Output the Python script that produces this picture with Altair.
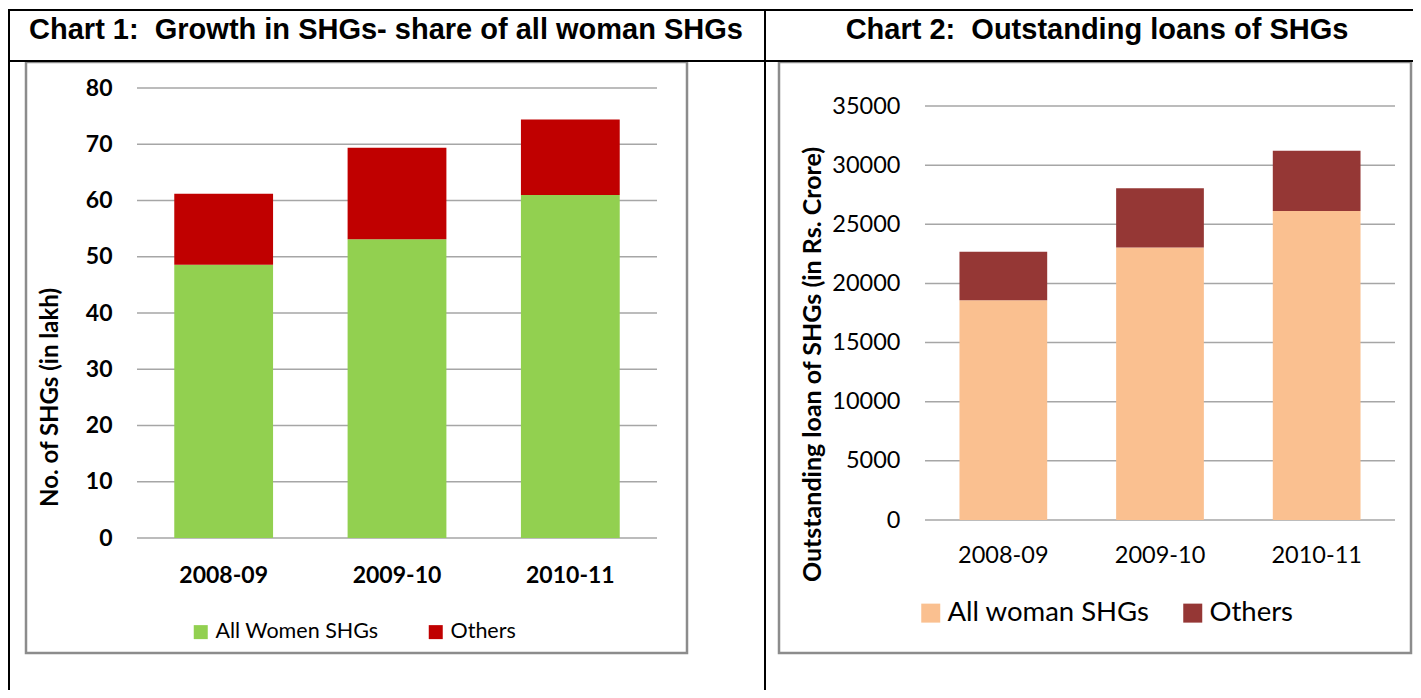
import altair as alt
import pandas as pd

# ---------------- data ----------------
years = ["2008-09", "2009-10", "2010-11"]

c1_title = "Chart 1:\u00a0 Growth in SHGs- share of all woman SHGs"
c1_series = ["All Women SHGs", "Others"]
c1_women = [48.6, 53.1, 61.0]
c1_others = [12.6, 16.3, 13.4]
c1_ticks = [0, 10, 20, 30, 40, 50, 60, 70, 80]
c1_ytitle = "No. of SHGs (in lakh)"
c1_colors = ["#92D050", "#C00000"]

c2_title = "Chart 2:\u00a0 Outstanding loans of SHGs"
c2_series = ["All woman SHGs", "Others"]
c2_women = [18580, 23030, 26120]
c2_others = [4100, 5010, 5100]
c2_ticks = [0, 5000, 10000, 15000, 20000, 25000, 30000, 35000]
c2_ytitle = "Outstanding loan of SHGs (in Rs. Crore)"
c2_colors = ["#FAC090", "#953735"]

W, H = 1405, 682
LABEL_FONT = "Lato"
GRID = "#a6a6a6"


def long_df(series, a, b):
    rows = []
    for i, y in enumerate(years):
        rows.append({"year": y, "series": series[0], "value": a[i], "order": 0})
        rows.append({"year": y, "series": series[1], "value": b[i], "order": 1})
    return pd.DataFrame(rows)


df1 = long_df(c1_series, c1_women, c1_others)
df2 = long_df(c2_series, c2_women, c2_others)
one = pd.DataFrame({"d": [0]})


def panel(df, series, colors, ticks, ytitle, ydom, yrange, xrange, pin, pout,
          gx0, gx1, xlab_pad, tick_bold, tick_size, ytitle_x, ytitle_y,
          ytitle_size, leg_x, leg_y, leg_size, leg_sym, leg_off, leg_colpad):
    yscale = alt.Scale(domain=ydom, range=yrange, nice=False, zero=True)
    yaxis = alt.Axis(orient="left", offset=-gx0, domain=False, ticks=False, grid=False,
                     values=ticks, format="d", labelPadding=25, labelFont=LABEL_FONT,
                     labelFontSize=tick_size, labelFontWeight="bold" if tick_bold else "normal",
                     labelColor="black", labelOverlap=False,
                     title=ytitle, titleX=ytitle_x, titleY=ytitle_y, titleAngle=270,
                     titleAlign="center", titleBaseline="middle", titleFont=LABEL_FONT,
                     titleFontSize=ytitle_size, titleFontWeight="bold", titleColor="black")
    xscale = alt.Scale(domain=years, range=xrange, paddingInner=pin, paddingOuter=pout)
    xaxis = alt.Axis(orient="bottom", offset=-(H - yrange[0]), domain=False, ticks=False,
                     grid=False, labelAngle=0, labelPadding=xlab_pad, labelFont=LABEL_FONT,
                     labelFontSize=tick_size, labelFontWeight="bold" if tick_bold else "normal",
                     labelColor="black", title=None)
    grid = alt.Chart(pd.DataFrame({"value": ticks})).mark_rule(
        color=GRID, strokeWidth=1.5).encode(
        y=alt.Y("value:Q", scale=yscale, axis=yaxis),
        x=alt.value(gx0), x2=alt.value(gx1))
    bars = alt.Chart(df).mark_bar().encode(
        x=alt.X("year:N", sort=years, scale=xscale, axis=xaxis),
        y=alt.Y("value:Q", stack="zero", scale=yscale, axis=yaxis),
        color=alt.Color("series:N", sort=series,
                        scale=alt.Scale(domain=series, range=colors),
                        legend=alt.Legend(orient="none", legendX=leg_x, legendY=leg_y,
                                          direction="horizontal", title=None,
                                          symbolType="square", symbolSize=leg_sym,
                                          symbolStrokeWidth=0, symbolOpacity=1,
                                          labelFont=LABEL_FONT, labelFontSize=leg_size,
                                          labelColor="black", labelOffset=leg_off,
                                          labelLimit=500, columnPadding=leg_colpad,
                                          padding=0)),
        order=alt.Order("order:Q"))
    return alt.layer(grid, bars)


p1 = panel(df1, c1_series, c1_colors, c1_ticks, c1_ytitle, ydom=[0, 80], yrange=[530, 80],
           xrange=[129, 649], pin=0.43, pout=0.215, gx0=129, gx1=649, xlab_pad=26,
           tick_bold=True, tick_size=23, ytitle_x=-87, ytitle_y=389, ytitle_size=24,
           leg_x=182, leg_y=613, leg_size=21.5, leg_sym=196, leg_off=4, leg_colpad=46)
p2 = panel(df2, c2_series, c2_colors, c2_ticks, c2_ytitle, ydom=[0, 35000], yrange=[512, 98],
           xrange=[917, 1387], pin=0.44, pout=0.22, gx0=917, gx1=1387, xlab_pad=23,
           tick_bold=False, tick_size=23.5, ytitle_x=-113, ytitle_y=356, ytitle_size=25,
           leg_x=909, leg_y=591, leg_size=27.5, leg_sym=361, leg_off=3, leg_colpad=29)

# ---------------- table frame / headers ----------------
def hline(y, x0, x1, color="black", w=2):
    return alt.Chart(one).mark_rule(color=color, strokeWidth=w).encode(
        x=alt.value(x0), x2=alt.value(x1), y=alt.value(y))


def vline(x, y0, y1, color="black", w=2):
    return alt.Chart(one).mark_rule(color=color, strokeWidth=w).encode(
        x=alt.value(x), y=alt.value(y0), y2=alt.value(y1))


def frame(x0, y0, x1, y1):
    return alt.Chart(one).mark_rect(fillOpacity=0, stroke="#8c8c8c", strokeWidth=2.5).encode(
        x=alt.value(x0), x2=alt.value(x1), y=alt.value(y0), y2=alt.value(y1))


def header(text, x):
    return alt.Chart(one).mark_text(font="Liberation Sans", fontSize=29, fontWeight="bold",
                                    align="center", baseline="middle", color="black").encode(
        x=alt.value(x), y=alt.value(22), text=alt.value(text))


decor = [
    frame(18, 54, 679, 645),
    frame(771, 54, 1403, 645),
    hline(2, 0, W), hline(53, 0, W),
    vline(1, 1, H), vline(757, 1, H),
    header(c1_title, 378), header(c2_title, 1089),
]

chart = alt.layer(*decor, p1, p2).resolve_scale(
    x="independent", y="independent", color="independent"
).properties(
    width=W, height=H, padding=0, autosize=alt.AutoSizeParams(type="none")
).configure_view(strokeWidth=0)

chart.save("out.html", embed_options={"renderer": "svg", "actions": False})
